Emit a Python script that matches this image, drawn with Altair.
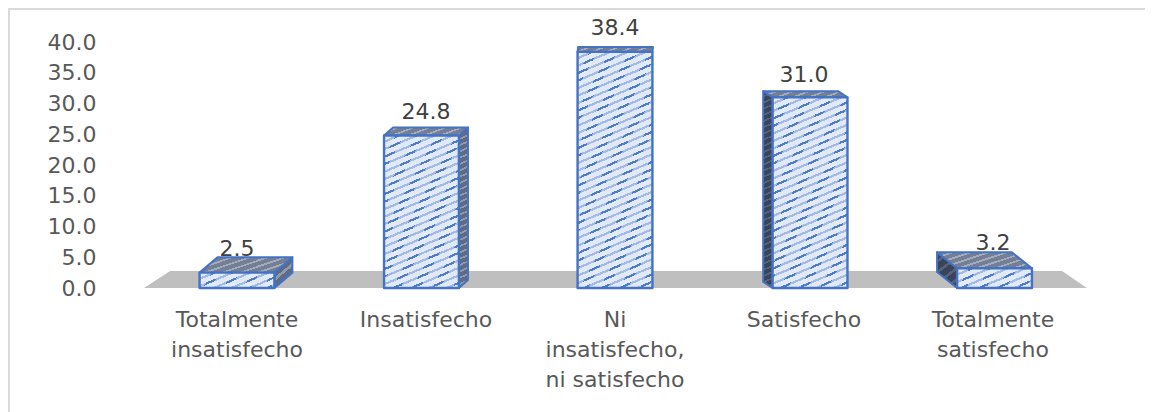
import altair as alt
import pandas as pd

categories = ["Totalmente\ninsatisfecho", "Insatisfecho", "Ni\ninsatisfecho,\nni satisfecho", "Satisfecho", "Totalmente\nsatisfecho"]
values = [2.5, 24.8, 38.4, 31.0, 3.2]
slots = [0, 1, 2, 3, 4]
bar_slots = [0.0, 0.976, 2.0, 3.032, 4.008]
y_ticks = [0, 5, 10, 15, 20, 25, 30, 35, 40]
depth_x = [0.095, 0.048, 0.003, -0.05, -0.106]
depth_y = [2.5, 1.3, 0.8, 1.0, 2.6]
label_gap = [4, -3, -7, -4, 3]

half = 0.198
PX_X = 189.0
PX_Y = 6.15
X_DOM = [(110 - 237) / PX_X, (1120 - 237) / PX_X]
x_scale = alt.Scale(domain=X_DOM, nice=False, zero=False)
y_scale = alt.Scale(domain=[0, 40], nice=False)
BLUE = "#4472c4"
FONT = "DejaVu Sans"

x_enc = alt.X("x:Q", scale=x_scale, axis=None)
y_axis = alt.Axis(values=y_ticks, format=".1f", domain=False, ticks=False, grid=False, title=None,
                  labelFont=FONT, labelFontSize=22, labelColor="#595959", labelPadding=14)


def y_enc():
    return alt.Y("y:Q", scale=y_scale, axis=y_axis)


def stripes(c0, c1, w_px, h_px, sx=0.42, sy=1.0, period=8.0, duty=0.3):
    """linear gradient standing in for a pattern fill; isolines sx*x + sy*y = const"""
    a, b = sx * w_px, sy * h_px
    total = a + b
    n = max(1.0, total / period)
    L = a * a + b * b
    gx, gy = a * total / L, b * total / L
    stops = []
    for k in range(int(n) + 1):
        s, e, f = k / n, (k + 1 - duty) / n, (k + 1) / n
        for off, col in ((s, c0), (e, c0), (e, c1), (f, c1)):
            stops.append(alt.GradientStop(offset=min(off, 1.0), color=col))
    return alt.LinearGradient(gradient="linear", stops=stops, x1=0, y1=0, x2=gx, y2=gy)


def poly(xs, tops, bottoms, fill, stroke=BLUE, sw=2):
    df = pd.DataFrame({"x": xs, "y": tops, "y2": bottoms})
    return alt.Chart(df).mark_area(fill=fill, stroke=stroke, strokeWidth=sw, strokeJoin="round", interpolate="linear").encode(
        x=x_enc, y=y_enc(), y2="y2:Q")


def front(L, R, v, **kw):
    df = pd.DataFrame({"x": [L], "x2": [R], "y": [v], "y2": [0]})
    return alt.Chart(df).mark_rect(**kw).encode(x=x_enc, x2="x2:Q", y=y_enc(), y2="y2:Q")


layers = []

# frame
frame_df = pd.DataFrame({"v": [0]})
layers.append(alt.Chart(frame_df).mark_rule(color="#d9d9d9", strokeWidth=2).encode(
    x=alt.value(-101), y=alt.value(-34), y2=alt.value(370)))
layers.append(alt.Chart(frame_df).mark_rule(color="#d9d9d9", strokeWidth=2).encode(
    x=alt.value(-102), x2=alt.value(1035), y=alt.value(-33)))

# floor
layers.append(poly([-0.492, -0.354, 4.365, 4.497], [0, 2.75, 2.75, 0], [0, 0, 0, 0], "#bfbfbf", stroke="#bfbfbf", sw=0))

# y axis carrier
axis_df = pd.DataFrame({"y": y_ticks})
layers.append(alt.Chart(axis_df).mark_point(opacity=0).encode(x=alt.value(0), y=y_enc()))

for s, v, dx, dy in zip(bar_slots, values, depth_x, depth_y):
    L, R = s - half, s + half
    wpx = (R - L) * PX_X
    hpx = v * PX_Y
    # side face
    if dx > 0.01:
        layers.append(poly([R, R + dx], [v, v + dy], [0, dy],
                           stripes("#5f6b84", "#8f9aae", abs(dx) * PX_X, hpx, period=6)))
    elif dx < -0.01:
        layers.append(poly([L + dx, L], [v + dy, v], [dy, 0],
                           stripes("#39435a", "#56617a", abs(dx) * PX_X, hpx, period=6)))
    # top face
    if dx >= 0:
        xs = [L, L + dx, R, R + dx]
        tops = [v, v + dy, v + dy, v + dy]
        bots = [v, v, v, v + dy]
    else:
        xs = [L + dx, L, R + dx, R]
        tops = [v + dy, v + dy, v + dy, v]
        bots = [v + dy, v, v, v]
    layers.append(poly(xs, tops, bots, stripes("#747f95", "#a3acbc", wpx, dy * PX_Y, period=6)))
    # front face: pale ground with blue stripes, broken into dashes by a crossing veil
    layers.append(front(L, R, v, fill=stripes("#e3ebf9", "#4f7bcb", wpx, hpx, period=7.5, duty=0.32)))
    layers.append(front(L, R, v, fill=stripes("rgba(223,232,248,0.58)", "rgba(223,232,248,0)", wpx, hpx,
                                              sx=1.0, sy=0.55, period=20, duty=0.4)))
    layers.append(front(L, R, v, fillOpacity=0, fill="white", stroke=BLUE, strokeWidth=2.4, strokeJoin="round"))

# data labels
for s, v, dy, g in zip(slots, values, depth_y, label_gap):
    ldf = pd.DataFrame({"x": [s], "y": [v + dy], "t": [f"{v:.1f}"]})
    layers.append(alt.Chart(ldf).mark_text(font=FONT, fontSize=22, color="#404040", baseline="bottom", dy=g).encode(
        x=x_enc, y=y_enc(), text="t:N"))

# category labels
cat_df = pd.DataFrame({"x": slots, "t": categories})
layers.append(alt.Chart(cat_df).mark_text(font=FONT, fontSize=22, color="#595959", baseline="top",
                                          lineBreak="\n", lineHeight=30).encode(
    x=x_enc, y=alt.value(268), text="t:N"))

chart = alt.layer(*layers).properties(
    width=1010, height=246,
    padding={"left": 102, "top": 34, "right": 25, "bottom": 124},
    autosize=alt.AutoSizeParams(type="none"),
    background="white",
).configure_view(stroke=None)

chart.save("out.html", embed_options={"renderer": "svg", "actions": False})
